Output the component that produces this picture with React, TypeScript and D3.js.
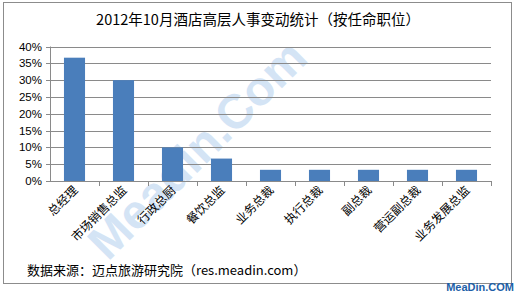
import React from "react";
import * as d3 from "d3";

const categories = ["总经理", "市场销售总监", "行政总厨", "餐饮总监", "业务总裁", "执行总裁", "副总裁", "营运副总裁", "业务发展总监"];
const values = [36.67, 30, 10, 6.67, 3.33, 3.33, 3.33, 3.33, 3.33];
const yTicks = [0, 5, 10, 15, 20, 25, 30, 35, 40];
const title = "2012年10月酒店高层人事变动统计（按任命职位）";
const source = "数据来源：迈点旅游研究院（res.meadin.com）";

export default function App() {
  const W = 517, H = 293;
  const left = 50, right = 491, top = 46.5, bottom = 181;
  const x = d3.scaleBand().domain(categories).range([left, right]).paddingInner(0.57).paddingOuter(0.285);
  const xb = d3.scaleBand().domain(categories).range([left, right]);
  const y = d3.scaleLinear().domain([0, 40]).range([bottom, top]);
  const font = "'SimSun','Noto Sans CJK SC',sans-serif";
  return (
    <svg width={W} height={H} style={{ position: "absolute", left: 0, top: 0, background: "#fff" }}>
      <rect x={3.5} y={2.5} width={508} height={281} fill="#fff" stroke="#8c8c8c" />
      <text x={0} y={0} transform="translate(108 262) rotate(-45)" fontSize={48} fontWeight="bold" fontFamily="'Liberation Sans',Arial,sans-serif" fill="#d4e4f5">Meadin.Com</text>
      <text x={258} y={25} textAnchor="middle" fontSize={14.5} fontFamily={font} fill="#000">{title}</text>
      {yTicks.map((t) => (
        <g key={t}>
          {t > 0 && <line x1={left} x2={right} y1={Math.round(y(t)) + 0.5} y2={Math.round(y(t)) + 0.5} stroke="#8a8a8a" />}
          <line x1={left - 4} x2={left} y1={Math.round(y(t)) + 0.5} y2={Math.round(y(t)) + 0.5} stroke="#8a8a8a" />
          <text x={left - 8} y={y(t) + 4} textAnchor="end" fontSize={11.5} fontFamily="'Liberation Sans',Arial,sans-serif" fill="#000">{t}%</text>
        </g>
      ))}
      <line x1={left + 0.5} x2={left + 0.5} y1={top} y2={bottom} stroke="#8a8a8a" />
      {values.map((v, i) => (
        <rect key={i} x={x(categories[i])!} y={y(v)} width={x.bandwidth()} height={bottom - y(v)} fill="#4a7ebb" />
      ))}
      <line x1={left} x2={right} y1={bottom + 0.5} y2={bottom + 0.5} stroke="#8a8a8a" />
      {categories.map((c, i) => (
        <line key={"t" + i} x1={Math.round(xb(c)! + xb.bandwidth()) + 0.5} x2={Math.round(xb(c)! + xb.bandwidth()) + 0.5} y1={bottom} y2={bottom + 5} stroke="#8a8a8a" />
      ))}
      {categories.map((c, i) => {
        const cx = xb(c)! + xb.bandwidth() / 2 + 4;
        const cy = bottom + 10;
        return (
          <text key={"l" + i} x={cx} y={cy} transform={`rotate(-45 ${cx} ${cy})`} textAnchor="end" fontSize={12} fontFamily={font} fill="#000">{c}</text>
        );
      })}
      <text x={27} y={275} fontSize={13} fontFamily={font} fill="#000">{source}</text>
      <text x={514} y={291} textAnchor="end" fontSize={11} fontWeight="bold" fontFamily="'Liberation Sans',Arial,sans-serif" fill="#1d5fa8">MeaDin.COM</text>
    </svg>
  );
}
